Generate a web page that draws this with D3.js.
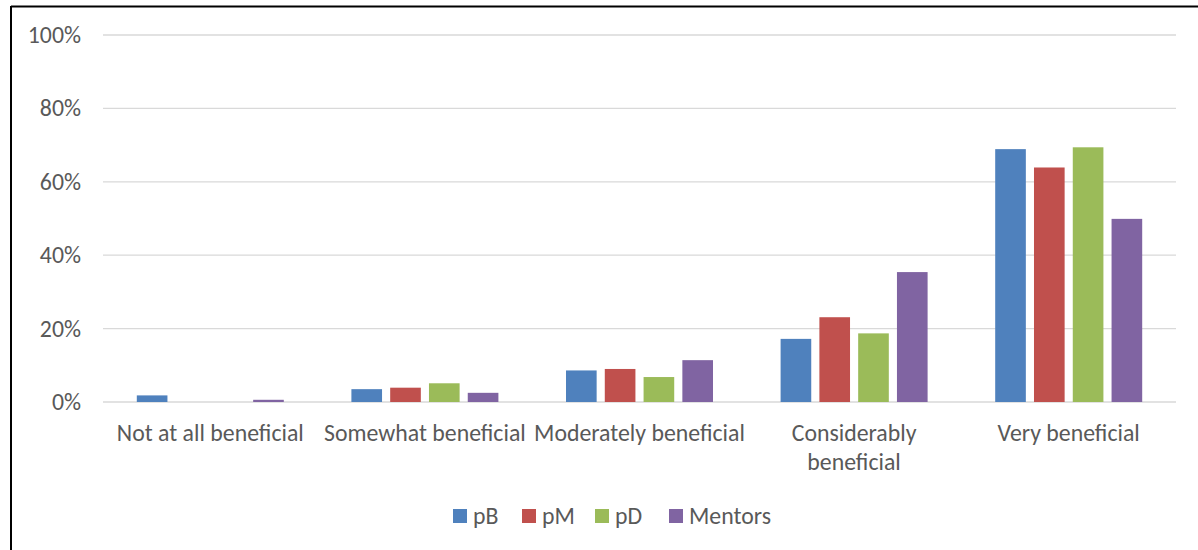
<!DOCTYPE html>
<html>
<head>
<meta charset="utf-8">
<script src="https://cdn.jsdelivr.net/npm/d3@7"></script>
<style>
  body { margin: 0; background: #fff; }
  svg text { font-family: Carlito, Lato, "Liberation Sans", sans-serif; fill: #595959; }
</style>
</head>
<body>
<div id="chart"></div>
<script>
// categories and series, values in %
const categories = ['Not at all beneficial', 'Somewhat beneficial', 'Moderately beneficial', 'Considerably beneficial', 'Very beneficial'];
const series = ['pB', 'pM', 'pD', 'Mentors'];
const colors = ['#4f81bd', '#c0504d', '#9bbb59', '#8064a2'];
const pB = [1.8, 3.5, 8.6, 17.2, 68.9];
const pM = [0, 3.9, 9.0, 23.1, 63.9];
const pD = [0, 5.1, 6.8, 18.7, 69.4];
const mentors = [0.6, 2.5, 11.4, 35.4, 49.9];
const yTicks = [0, 20, 40, 60, 80, 100];

const values = [pB, pM, pD, mentors];
const rows = [];
categories.forEach(function (c, i) {
    series.forEach(function (s, j) {
        rows.push({cat: c, s: s, v: values[j][i], color: colors[j]});
    });
});

const W = 1198, H = 550;
const fs = '23.8px';
const svg = d3.select('#chart').append('svg')
    .attr('width', W)
    .attr('height', H);

// frame (top and left edges only)
svg.append('line').attr('x1', 11).attr('x2', W).attr('y1', 6.5).attr('y2', 6.5)
    .attr('stroke', '#000').attr('stroke-width', 2);
svg.append('line').attr('x1', 11).attr('x2', 11).attr('y1', 6).attr('y2', H)
    .attr('stroke', '#000').attr('stroke-width', 2);

const plotL = 103, plotR = 1176, plotT = 35, plotB = 402;

const y = d3.scaleLinear().domain([0, 100]).range([plotB, plotT]);
const x0 = d3.scaleBand().domain(categories).range([plotL, plotR]);
const grp = 147;
const x1 = d3.scaleBand().domain(series)
    .range([(x0.bandwidth() - grp) / 2, (x0.bandwidth() + grp) / 2])
    .paddingInner(0.21);

// gridlines
svg.append('g').selectAll('line')
    .data(yTicks)
    .enter().append('line')
    .attr('x1', plotL).attr('x2', plotR)
    .attr('y1', d => y(d)).attr('y2', d => y(d))
    .attr('stroke', '#d9d9d9')
    .attr('stroke-width', 1.3);

// y labels
svg.append('g').selectAll('text')
    .data(yTicks)
    .enter().append('text')
    .attr('x', 81)
    .attr('y', d => y(d) + 8)
    .attr('text-anchor', 'end')
    .style('font-size', fs)
    .text(d => d + '%');

// bars
svg.append('g').selectAll('rect')
    .data(rows)
    .enter().append('rect')
    .attr('x', d => x0(d.cat) + x1(d.s))
    .attr('y', d => y(d.v))
    .attr('width', x1.bandwidth())
    .attr('height', d => y(0) - y(d.v))
    .attr('fill', d => d.color);

// category labels, wrapped like the original
const wrapped = {'Considerably beneficial': ['Considerably', 'beneficial']};
const lbls = svg.append('g').selectAll('text')
    .data(categories)
    .enter().append('text')
    .attr('x', d => x0(d) + x0.bandwidth() / 2)
    .attr('y', 441)
    .attr('text-anchor', 'middle')
    .style('font-size', fs);
lbls.each(function (d) {
    const lines = wrapped[d] || [d];
    const t = d3.select(this);
    lines.forEach(function (l, i) {
        t.append('tspan')
            .attr('x', x0(d) + x0.bandwidth() / 2)
            .attr('dy', i === 0 ? 0 : 29)
            .text(l);
    });
});

// legend
const legX = [453, 522, 595, 669];
const leg = svg.append('g').selectAll('g')
    .data(series)
    .enter().append('g')
    .attr('transform', (d, i) => 'translate(' + legX[i] + ',509)');
leg.append('rect')
    .attr('width', 14).attr('height', 14)
    .attr('fill', (d, i) => colors[i]);
leg.append('text')
    .attr('x', 20)
    .attr('y', 14.5)
    .style('font-size', fs)
    .text(d => d);
</script>
</body>
</html>
